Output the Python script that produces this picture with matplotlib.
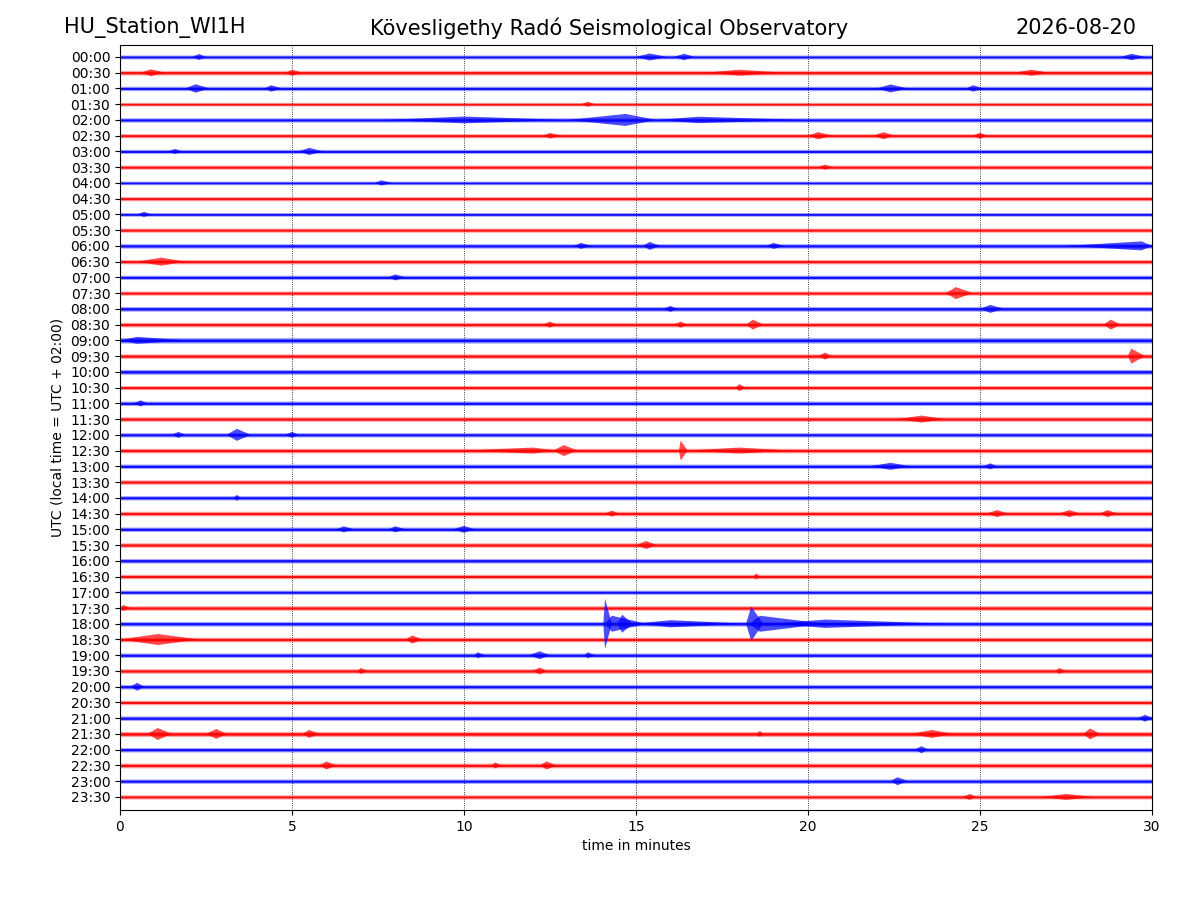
import numpy as np
import matplotlib
matplotlib.use('Agg')
import matplotlib.pyplot as plt

station = 'HU_Station_WI1H'
observatory = 'Kövesligethy Radó Seismological Observatory'
day = '2026-08-20'
ylab = 'UTC (local time = UTC + 02:00)'

row_labels = ['%02d:%02d' % (h, m) for h in range(24) for m in (0, 30)]

# half-width of the background noise per row (pixels)
noise = [2.0, 2.3, 2.2, 1.8, 2.2, 2.1, 2.1, 2.1, 1.8, 2.1, 1.9, 2.1,
         2.3, 2.2, 2.2, 2.1, 2.4, 2.3, 2.8, 2.3, 2.5, 2.1, 2.3, 2.3,
         2.2, 2.3, 2.3, 2.2, 2.2, 2.3, 2.3, 2.3, 2.3, 2.2, 2.1, 2.3,
         2.4, 2.3, 2.3, 2.3, 2.3, 2.2, 2.3, 2.6, 2.3, 2.4, 2.2, 2.1]

# bursts: row, start min, peak min, end min, half amplitude (pixels)
bursts = [
    ('00:00', 2.1, 2.3, 2.5, 3.0), ('00:00', 15.0, 15.4, 15.9, 3.5), ('00:00', 16.1, 16.4, 16.7, 3.2),
    ('00:00', 29.1, 29.4, 29.8, 3.2),
    ('00:30', 0.6, 0.9, 1.3, 3.5), ('00:30', 4.8, 5.0, 5.3, 3.0), ('00:30', 17.0, 18.0, 19.3, 3.0),
    ('00:30', 26.0, 26.5, 27.0, 3.0),
    ('01:00', 1.9, 2.2, 2.6, 4.2), ('01:00', 4.2, 4.4, 4.7, 3.2), ('01:00', 22.0, 22.4, 22.9, 4.0),
    ('01:00', 24.6, 24.8, 25.1, 3.2),
    ('01:30', 13.4, 13.6, 13.8, 2.5),
    ('02:00', 7.7, 10.0, 13.0, 3.4), ('02:00', 13.0, 14.7, 15.6, 6.0), ('02:00', 15.6, 16.8, 19.9, 3.2),
    ('02:30', 12.3, 12.5, 12.8, 2.8), ('02:30', 20.0, 20.3, 20.7, 3.6), ('02:30', 21.9, 22.2, 22.5, 3.6),
    ('02:30', 24.8, 25.0, 25.2, 3.0),
    ('03:00', 1.4, 1.6, 1.8, 2.6), ('03:00', 5.2, 5.5, 5.9, 3.6),
    ('03:30', 20.3, 20.5, 20.7, 2.6),
    ('04:00', 7.4, 7.6, 7.9, 2.6),
    ('05:00', 0.5, 0.7, 0.9, 2.6),
    ('06:00', 13.2, 13.4, 13.7, 3.0), ('06:00', 15.2, 15.4, 15.7, 4.0), ('06:00', 18.8, 19.0, 19.3, 3.0),
    ('06:00', 27.5, 29.7, 30.0, 4.5),
    ('06:30', 0.5, 1.2, 1.9, 4.0),
    ('07:00', 7.8, 8.0, 8.3, 3.0),
    ('07:30', 24.0, 24.3, 24.8, 6.0),
    ('08:00', 15.8, 16.0, 16.2, 3.0), ('08:00', 25.0, 25.3, 25.7, 4.0),
    ('08:30', 12.3, 12.5, 12.7, 3.0), ('08:30', 16.1, 16.3, 16.5, 3.0), ('08:30', 18.2, 18.4, 18.7, 5.0),
    ('08:30', 28.6, 28.8, 29.1, 5.0),
    ('09:00', 0.0, 0.5, 1.9, 3.5),
    ('09:30', 20.3, 20.5, 20.7, 3.5), ('09:30', 29.3, 29.4, 29.8, 7.5),
    ('10:30', 17.9, 18.0, 18.2, 3.5),
    ('11:00', 0.4, 0.6, 0.8, 3.0),
    ('11:30', 22.6, 23.3, 24.0, 3.5),
    ('12:00', 1.5, 1.7, 1.9, 3.0), ('12:00', 3.1, 3.4, 3.8, 6.0), ('12:00', 4.8, 5.0, 5.2, 3.0),
    ('12:30', 10.0, 12.0, 12.7, 3.0), ('12:30', 12.6, 12.9, 13.3, 5.5), ('12:30', 16.25, 16.3, 16.5, 10.0),
    ('12:30', 16.5, 18.0, 19.5, 3.0),
    ('13:00', 21.8, 22.4, 23.0, 3.5), ('13:00', 25.1, 25.3, 25.5, 3.0),
    ('14:00', 3.3, 3.4, 3.5, 3.0),
    ('14:30', 14.1, 14.3, 14.5, 3.0), ('14:30', 25.2, 25.5, 25.8, 3.5), ('14:30', 27.3, 27.6, 27.9, 3.5),
    ('14:30', 28.5, 28.7, 29.0, 3.5),
    ('15:00', 6.3, 6.5, 6.8, 3.0), ('15:00', 7.8, 8.0, 8.3, 3.0), ('15:00', 9.7, 10.0, 10.3, 3.5),
    ('15:30', 15.0, 15.3, 15.6, 4.0),
    ('16:30', 18.4, 18.5, 18.6, 3.0),
    ('17:30', 0.0, 0.1, 0.3, 3.0),
    ('18:00', 14.05, 14.1, 14.3, 25.0), ('18:00', 14.1, 14.3, 15.3, 8.0), ('18:00', 14.45, 14.6, 14.9, 9.0),
    ('18:00', 15.0, 16.0, 18.2, 3.6), ('18:00', 18.2, 18.35, 18.7, 17.0), ('18:00', 18.3, 18.6, 20.5, 8.0),
    ('18:00', 19.0, 20.5, 24.0, 4.2),
    ('18:30', 0.0, 1.1, 2.3, 5.5), ('18:30', 8.3, 8.5, 8.8, 4.0),
    ('19:00', 10.3, 10.4, 10.6, 3.0), ('19:00', 11.9, 12.2, 12.5, 4.0), ('19:00', 13.5, 13.6, 13.8, 3.0),
    ('19:30', 6.9, 7.0, 7.2, 3.0), ('19:30', 12.0, 12.2, 12.4, 3.5), ('19:30', 27.2, 27.3, 27.5, 3.0),
    ('20:00', 0.3, 0.5, 0.7, 4.0),
    ('21:00', 29.6, 29.8, 30.0, 3.5),
    ('21:30', 0.8, 1.1, 1.5, 6.0), ('21:30', 2.5, 2.8, 3.1, 5.0), ('21:30', 5.3, 5.5, 5.8, 4.0),
    ('21:30', 18.5, 18.6, 18.7, 3.0), ('21:30', 23.0, 23.6, 24.2, 4.0), ('21:30', 28.0, 28.2, 28.5, 5.5),
    ('22:00', 23.1, 23.3, 23.5, 3.5),
    ('22:30', 5.8, 6.0, 6.3, 4.0), ('22:30', 10.8, 10.9, 11.1, 3.0), ('22:30', 12.2, 12.4, 12.7, 4.0),
    ('23:00', 22.4, 22.6, 22.9, 4.0),
    ('23:30', 24.5, 24.7, 24.9, 3.0), ('23:30', 26.8, 27.5, 28.3, 3.0),
]

px = 1 / 15.74  # row spacing in pixels
colors = ['blue', 'red']

fig = plt.figure(figsize=(12, 9), dpi=100)
ax = fig.add_axes([0.1, 0.1, 0.86, 0.85])

for i, lab in enumerate(row_labels):
    c = colors[i % 2]
    a = noise[i] * px
    ax.fill_between([0, 30], -i - a, -i + a, color=c, lw=0, alpha=0.35, snap=False)
    ax.fill_between([0, 30], -i - a * 0.5, -i + a * 0.5, color=c, lw=0, alpha=0.9, snap=False)

for lab, t0, tp, t1, amp in bursts:
    i = row_labels.index(lab)
    c = colors[i % 2]
    a = amp * px
    ax.fill([t0, tp, t1, tp], [-i, -i + a, -i, -i - a], color=c, lw=0, alpha=0.7)

ax.set_xlim(0, 30)
ax.set_ylim(-47.83, 0.76)
ax.set_xticks(range(0, 31, 5))
ax.set_yticks([-i for i in range(len(row_labels))])
ax.set_yticklabels(row_labels)
ax.grid(axis='x', color='black', linestyle=':', linewidth=0.6)
ax.set_axisbelow(True)
ax.set_xlabel('time in minutes')
ax.set_ylabel(ylab)

fig.text(0.053, 0.969, station, fontsize=15, ha='left', va='center')
fig.text(0.508, 0.969, observatory, fontsize=15, ha='center', va='center')
fig.text(0.947, 0.969, day, fontsize=15, ha='right', va='center')

fig.savefig('out.png', dpi=100)
